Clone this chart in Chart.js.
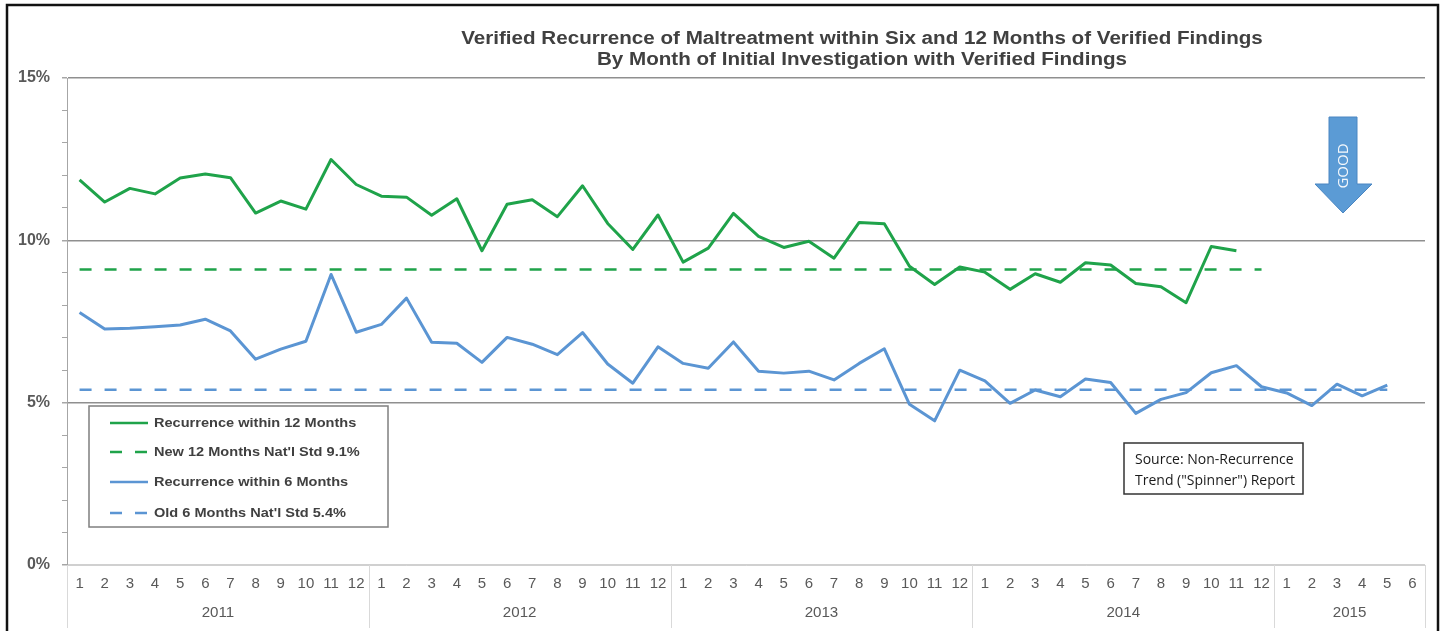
<!DOCTYPE html>
<html>
<head>
<meta charset="utf-8">
<script src="https://cdn.jsdelivr.net/npm/chart.js@4.4.1/dist/chart.umd.min.js"></script>
<style>
html, body { margin: 0; padding: 0; background: #fff; }
#wrap { position: relative; width: 1446px; height: 631px; }
</style>
</head>
<body>
<div id="wrap"><canvas id="myChart" width="1446" height="631"></canvas></div>
<script>
// x axis: months grouped by year
var years = ['2011', '2012', '2013', '2014', '2015'];
var monthsInYear = [12, 12, 12, 12, 6];

// recurrence within 12 months (%), 2011-1 .. 2014-11
var recur12 = [
    11.86, 11.18, 11.60, 11.43, 11.92, 12.04, 11.93, 10.84, 11.21, 10.96, 12.49, 11.72,
    11.36, 11.33, 10.77, 11.28, 9.68, 11.11, 11.25, 10.73, 11.68, 10.52, 9.72, 10.78,
    9.33, 9.76, 10.83, 10.12, 9.78, 9.97, 9.45, 10.55, 10.51, 9.20, 8.64, 9.18,
    9.02, 8.49, 8.97, 8.71, 9.31, 9.24, 8.67, 8.57, 8.08, 9.81, 9.68
];

// recurrence within 6 months (%), 2011-1 .. 2015-5
var recur6 = [
    7.78, 7.27, 7.29, 7.34, 7.39, 7.57, 7.21, 6.34, 6.65, 6.89, 8.95, 7.17,
    7.41, 8.22, 6.86, 6.83, 6.24, 7.01, 6.80, 6.48, 7.16, 6.19, 5.60, 6.72,
    6.21, 6.06, 6.87, 5.97, 5.91, 5.97, 5.70, 6.21, 6.66, 4.95, 4.44, 6.00,
    5.67, 4.98, 5.39, 5.18, 5.73, 5.62, 4.67, 5.10, 5.31, 5.92, 6.14, 5.49,
    5.30, 4.91, 5.57, 5.21, 5.54
];

// national standards: value and how many months the line covers
var std12Value = 9.1;
var std12Months = 48;
var std6Value = 5.4;
var std6Months = 53;

var yTickLabels = [0, 5, 10, 15];

var titleLines = [
    'Verified Recurrence of Maltreatment within Six and 12 Months of Verified Findings',
    'By Month of Initial Investigation with Verified Findings'
];

var categories = [];
var monthOf = [];
years.forEach(function (yr, k) {
    for (var m = 1; m <= monthsInYear[k]; m++) {
        categories.push(yr + '-' + m);
        monthOf.push(String(m));
    }
});

function flatLine(value, count) {
    var arr = [];
    for (var i = 0; i < count; i++) arr.push(value);
    return arr;
}

var green = '#1fa34a';
var blue = '#5b95d3';
var arial = '"Liberation Sans", Arial, sans-serif';

// text drawn a bit wider, like the stretched original
function wideText(ctx, text, x, y, sx) {
    ctx.save();
    ctx.translate(x, y);
    ctx.scale(sx, 1);
    ctx.fillText(text, 0, 0);
    ctx.restore();
}

var decor = {
    id: 'decor',
    afterDraw: function (chart) {
        var ctx = chart.ctx;
        var xs = chart.scales.x;
        ctx.save();

        // title
        ctx.fillStyle = '#404040';
        ctx.font = 'bold 18px ' + arial;
        ctx.textAlign = 'center';
        ctx.textBaseline = 'middle';
        wideText(ctx, titleLines[0], 862, 39, 1.145);
        wideText(ctx, titleLines[1], 862, 60, 1.145);

        // year row + separators
        var half = (xs.getPixelForValue(1) - xs.getPixelForValue(0)) / 2;
        var start = 0;
        var bottom = chart.chartArea.bottom;
        ctx.strokeStyle = '#d9d9d9';
        ctx.lineWidth = 1;
        ctx.font = '14px ' + arial;
        ctx.fillStyle = '#595959';
        var last = 0;
        years.forEach(function (yr, k) {
            var first = xs.getPixelForValue(start);
            last = xs.getPixelForValue(start + monthsInYear[k] - 1);
            wideText(ctx, yr, (first + last) / 2, 613, 1.08);
            ctx.beginPath();
            ctx.moveTo(Math.round(first - half) + 0.5, bottom);
            ctx.lineTo(Math.round(first - half) + 0.5, 628);
            ctx.stroke();
            start += monthsInYear[k];
        });
        ctx.beginPath();
        ctx.moveTo(Math.round(last + half) + 0.5, bottom);
        ctx.lineTo(Math.round(last + half) + 0.5, 628);
        ctx.stroke();

        // legend box
        ctx.fillStyle = '#fff';
        ctx.fillRect(89, 406, 299, 121);
        ctx.strokeStyle = '#7f7f7f';
        ctx.lineWidth = 1.5;
        ctx.strokeRect(89, 406, 299, 121);
        var rows = [423, 452, 482, 513];
        chart.data.datasets.forEach(function (ds, i) {
            ctx.strokeStyle = ds.borderColor;
            ctx.lineWidth = 2.5;
            ctx.setLineDash(ds.borderDash || []);
            ctx.beginPath();
            ctx.moveTo(110, rows[i]);
            ctx.lineTo(148, rows[i]);
            ctx.stroke();
            ctx.setLineDash([]);
            ctx.fillStyle = '#404040';
            ctx.font = 'bold 13px ' + arial;
            ctx.textAlign = 'left';
            wideText(ctx, ds.label, 154, rows[i], 1.12);
        });

        // source note
        ctx.fillStyle = '#fff';
        ctx.fillRect(1124, 443, 179, 51);
        ctx.strokeStyle = '#333';
        ctx.lineWidth = 1.5;
        ctx.strokeRect(1124, 443, 179, 51);
        ctx.fillStyle = '#1a1a1a';
        ctx.font = '14px "Open Sans", sans-serif';
        ctx.fillText('Source: Non-Recurrence', 1135, 460);
        ctx.fillText('Trend ("Spinner") Report', 1135, 481);

        // GOOD arrow
        ctx.fillStyle = '#5b9bd5';
        ctx.strokeStyle = '#4a86c2';
        ctx.lineWidth = 1;
        ctx.beginPath();
        ctx.moveTo(1329, 117);
        ctx.lineTo(1357, 117);
        ctx.lineTo(1357, 184);
        ctx.lineTo(1372, 184);
        ctx.lineTo(1343, 213);
        ctx.lineTo(1315, 184);
        ctx.lineTo(1329, 184);
        ctx.closePath();
        ctx.fill();
        ctx.stroke();
        ctx.translate(1343, 166);
        ctx.rotate(-Math.PI / 2);
        ctx.fillStyle = '#f4f8fc';
        ctx.font = '15px "Open Sans", sans-serif';
        ctx.textAlign = 'center';
        ctx.fillText('GOOD', 0, 1);
        ctx.setTransform(1, 0, 0, 1, 0, 0);

        // outer frame
        ctx.strokeStyle = '#111';
        ctx.lineWidth = 2.5;
        ctx.strokeRect(7, 5, 1431, 700);
        ctx.restore();
    }
};

window.onload = function () {
    var ctx = document.getElementById('myChart').getContext('2d');

    var chart = new Chart(ctx, {
        type: 'line',
        data: {
            labels: categories,
            datasets: [{
                label: 'Recurrence within 12 Months',
                data: recur12,
                borderColor: green,
                borderWidth: 3
            }, {
                label: "New 12 Months Nat'l Std 9.1%",
                data: flatLine(std12Value, std12Months),
                borderColor: green,
                borderWidth: 2.5,
                borderDash: [12, 13]
            }, {
                label: 'Recurrence within 6 Months',
                data: recur6,
                borderColor: blue,
                borderWidth: 3
            }, {
                label: "Old 6 Months Nat'l Std 5.4%",
                data: flatLine(std6Value, std6Months),
                borderColor: blue,
                borderWidth: 2.5,
                borderDash: [12, 13]
            }]
        },
        options: {
            responsive: false,
            animation: false,
            devicePixelRatio: 1,
            layout: { padding: { top: 78, right: 21, left: 0, bottom: 0 } },
            plugins: {
                legend: { display: false },
                title: { display: false },
                tooltip: { enabled: false }
            },
            elements: {
                point: { radius: 0 },
                line: { tension: 0, borderJoinStyle: 'round', fill: false }
            },
            scales: {
                x: {
                    offset: true,
                    grid: { display: false, drawTicks: false },
                    border: { display: true, color: '#d0d0d0' },
                    ticks: {
                        autoSkip: false,
                        maxRotation: 0,
                        padding: 10,
                        color: '#595959',
                        font: { family: arial, size: 15 },
                        callback: function (v, i) { return monthOf[i]; }
                    },
                    afterFit: function (s) { s.height = 66; }
                },
                y: {
                    min: 0,
                    max: 15,
                    ticks: {
                        stepSize: 1,
                        padding: 12,
                        color: '#595959',
                        font: { family: arial, size: 16, weight: 'bold' },
                        callback: function (v) {
                            return yTickLabels.indexOf(v) >= 0 ? v + '%' : '';
                        }
                    },
                    grid: {
                        color: function (c) {
                            var v = c.tick.value;
                            if (v === 0) return '#d0d0d0';
                            return yTickLabels.indexOf(v) >= 0 ? '#8f8f8f' : 'rgba(0,0,0,0)';
                        },
                        lineWidth: function (c) {
                            return yTickLabels.indexOf(c.tick.value) >= 0 ? 1.5 : 1;
                        },
                        tickLength: 5,
                        tickColor: '#a6a6a6'
                    },
                    border: { color: '#a6a6a6' },
                    afterFit: function (s) { s.width = 67; }
                }
            }
        },
        plugins: [decor]
    });
};
</script>
</body>
</html>
